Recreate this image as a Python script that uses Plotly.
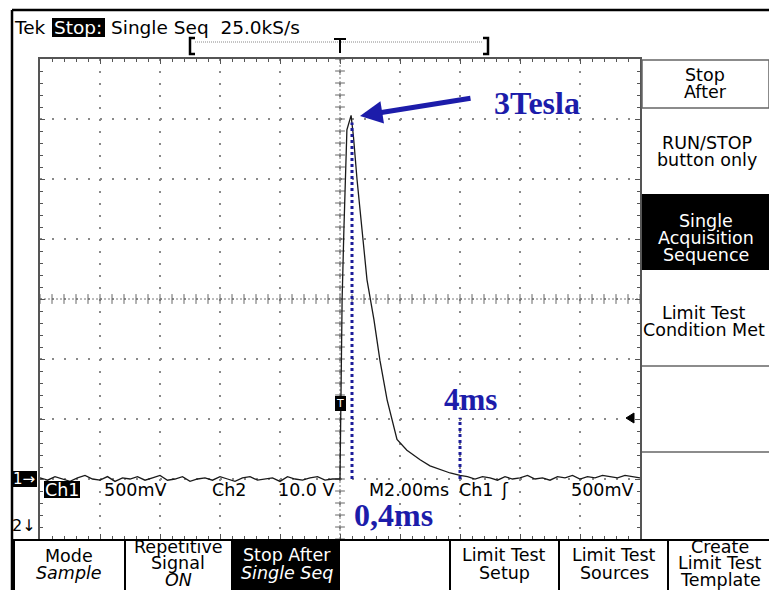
import numpy as np
import plotly.graph_objects as go

W, H = 769, 590

# ---------------- data (read from the screen) ----------------
# time in ms (2 ms/div), voltage in V (500 mV/div), trigger at t = 0
pre_t = [-10.0, -9.75, -9.5, -9.25, -9.0, -8.75, -8.5, -8.25, -8.0, -7.75,
         -7.5, -7.25, -7.0, -6.75, -6.5, -6.25, -6.0, -5.75, -5.5, -5.25,
         -5.0, -4.75, -4.5, -4.25, -4.0, -3.75, -3.5, -3.25, -3.0, -2.75,
         -2.5, -2.25, -2.0, -1.75, -1.5, -1.25, -1.0, -0.75, -0.5, -0.25]
pre_v = [0.01, -0.01, 0.02, 0.0, -0.02, 0.01, 0.03, 0.0, -0.01, 0.02,
         -0.02, 0.01, 0.0, 0.02, -0.01, 0.01, 0.03, -0.01, 0.0, 0.02,
         -0.02, 0.0, 0.01, -0.01, 0.02, 0.0, -0.02, 0.01, 0.02, -0.01,
         0.0, 0.01, -0.02, 0.02, 0.0, -0.01, 0.01, 0.02, -0.01, 0.0]

pulse_t = [0.0, 0.03, 0.07, 0.13, 0.23, 0.37, 0.45, 0.57, 0.73, 0.90,
           1.13, 1.33, 1.57, 1.73, 1.90, 2.23, 2.67, 3.0, 3.33, 3.67, 4.0]
pulse_v = [0.0, 0.6, 1.49, 2.08, 2.91, 3.03, 2.85, 2.49, 2.08, 1.66,
           1.33, 0.99, 0.66, 0.49, 0.33, 0.24, 0.16, 0.11, 0.08, 0.05, 0.03]

post_t = [4.25, 4.5, 4.75, 5.0, 5.25, 5.5, 5.75, 6.0, 6.25, 6.5, 6.75, 7.0,
          7.25, 7.5, 7.75, 8.0, 8.25, 8.5, 8.75, 9.0, 9.25, 9.5, 9.75, 10.0]
post_v = [0.02, 0.0, 0.02, 0.01, -0.01, 0.02, 0.0, 0.01, 0.03, 0.0, 0.01, -0.01,
          0.02, 0.01, 0.03, 0.0, 0.02, 0.01, 0.03, 0.02, 0.01, 0.03, 0.02, 0.01]

peak_time_ms = 0.4
end_time_ms = 4.0
peak_level = 2.97
end_level = 0.51

t_all = pre_t + pulse_t + post_t
v_all = pre_v + pulse_v + post_v

# ---------------- helpers ----------------
def X(p):
    return p / W

def Y(p):
    return 1 - p / H

annotations = []
shapes = []

def ann(text, x, y, size=17.5, color="black", family="DejaVu Sans", xanchor="center"):
    annotations.append(dict(text=text, x=X(x), y=Y(y), xref="paper", yref="paper",
                            showarrow=False, xanchor=xanchor, yanchor="middle",
                            borderpad=0,
                            font=dict(size=size, color=color, family=family)))

def rect(x0, y0, x1, y1, fill="black", line=None, lw=0):
    shapes.append(dict(type="rect", xref="paper", yref="paper",
                       x0=X(x0), x1=X(x1), y0=Y(y0), y1=Y(y1),
                       fillcolor=fill, line=dict(color=line or fill, width=lw),
                       layer="above"))

def line(x0, y0, x1, y1, color="black", w=1.5, dash="solid"):
    shapes.append(dict(type="line", xref="paper", yref="paper",
                       x0=X(x0), x1=X(x1), y0=Y(y0), y1=Y(y1),
                       line=dict(color=color, width=w, dash=dash), layer="above"))

fig = go.Figure()

# graticule centre tick marks
cx_ticks = np.arange(-10, 10.001, 0.4)
cy_ticks = np.arange(-0.5, 3.501, 0.1)
fig.add_trace(go.Scatter(x=cx_ticks, y=[1.5] * len(cx_ticks), mode="markers",
                         marker=dict(symbol="line-ns-open", size=7, color="#666",
                                     line=dict(color="#666", width=1)),
                         hoverinfo="skip", showlegend=False))
fig.add_trace(go.Scatter(x=[0] * len(cy_ticks), y=cy_ticks, mode="markers",
                         marker=dict(symbol="line-ew-open", size=7, color="#666",
                                     line=dict(color="#666", width=1)),
                         hoverinfo="skip", showlegend=False))

# signal trace
fig.add_trace(go.Scatter(x=t_all, y=v_all, mode="lines",
                         line=dict(color="#1a1a1a", width=1.3),
                         hoverinfo="skip", showlegend=False))

# centre crosshair lines
shapes.append(dict(type="line", xref="x", yref="y", x0=0, x1=0, y0=-0.5, y1=3.5,
                   line=dict(color="#777", width=1, dash="2px,2px"), layer="below"))
shapes.append(dict(type="line", xref="x", yref="y", x0=-10, x1=10, y0=1.5, y1=1.5,
                   line=dict(color="#777", width=1, dash="2px,2px"), layer="below"))

# blue dotted markers
shapes.append(dict(type="line", xref="x", yref="y", x0=peak_time_ms, x1=peak_time_ms,
                   y0=0, y1=peak_level,
                   line=dict(color="#1c1c9a", width=3, dash="3px,3px"), layer="above"))
shapes.append(dict(type="line", xref="x", yref="y", x0=end_time_ms, x1=end_time_ms,
                   y0=0, y1=end_level,
                   line=dict(color="#1c1c9a", width=3, dash="3px,3px"), layer="above"))

# outer frame
line(12, 10, 769, 10, w=2.5)
line(12, 10, 12, 590, w=2.5)

# top header
ann("Tek", 13, 27, size=18.5, xanchor="left")
rect(52, 18, 105, 37)
ann("Stop:", 78, 27, size=18.5, color="white")
ann("Single Seq  25.0kS/s", 110, 27, size=18.5, xanchor="left")

# record bracket
shapes.append(dict(type="path", xref="paper", yref="paper",
                   path=f"M{X(195)},{Y(38)} L{X(190)},{Y(38)} L{X(190)},{Y(54)} L{X(195)},{Y(54)}",
                   line=dict(color="black", width=2.5)))
shapes.append(dict(type="path", xref="paper", yref="paper",
                   path=f"M{X(483)},{Y(38)} L{X(488)},{Y(38)} L{X(488)},{Y(54)} L{X(483)},{Y(54)}",
                   line=dict(color="black", width=2.5)))
line(195, 42, 483, 42, color="#888", w=1, dash="1px,1px")
line(334, 39, 346, 39, w=2)
line(340, 39, 340, 53, w=2)

# right menu panel
rect(642, 60, 769, 108, fill="white", line="#666", lw=1.5)
ann("Stop", 705, 75)
ann("After", 705, 92)
ann("RUN/STOP", 707, 143)
ann("button only", 707, 160)
rect(642, 194, 769, 270)
ann("Single", 706, 221, color="white")
ann("Acquisition", 706, 238, color="white")
ann("Sequence", 706, 255, color="white")
ann("Limit Test", 704, 313)
ann("Condition Met", 642, 330, xanchor="left")
line(642, 366, 769, 366, color="#666", w=1.5)
line(642, 452, 769, 452, color="#666", w=1.5)

# bottom menu
line(12, 540, 769, 540, w=2)
for xs in [14, 125, 232, 450, 559, 668]:
    line(xs, 540, xs, 590, w=2)
ann("Mode", 69, 556)
ann("<i>Sample</i>", 69, 573)
ann("Repetitive", 178, 547)
ann("Signal", 178, 563)
ann("<i>ON</i>", 178, 580)
rect(232, 540, 340, 590)
ann("Stop After", 287, 555, color="white")
ann("<i>Single Seq</i>", 287, 573, color="white")
ann("Limit Test", 504, 555)
ann("Setup", 504, 573)
ann("Limit Test", 614, 555)
ann("Sources", 614, 573)
ann("Create", 720, 547)
ann("Limit Test", 720, 563)
ann("Template", 720, 580)

# channel markers
rect(12, 471, 37, 487)
ann("1→", 24, 479, size=15, color="white")
ann("2↓", 24, 525, size=16)

# trigger markers
rect(335, 396, 346, 411)
ann("T", 340, 403, size=11, color="white")
shapes.append(dict(type="path", xref="paper", yref="paper",
                   path=f"M{X(626)},{Y(418)} L{X(634)},{Y(413)} L{X(634)},{Y(423)} Z",
                   fillcolor="black", line=dict(color="black", width=1)))

# readout row
rect(44, 481, 80, 498)
ann("Ch1", 62, 490, size=17.5, color="white")
ann("500mV", 135, 490, size=17.5)
ann("Ch2", 229, 490, size=17.5)
ann("10.0 V", 306, 490, size=17.5)
ann("M2.00ms", 409, 490, size=17.5)
ann("Ch1", 476, 490, size=17.5)
ann("ʃ", 505, 490, size=17.5)
ann("500mV", 602, 490, size=17.5)

# blue annotations
blue = "#1c1caa"
ann("<b>3Tesla</b>", 537, 103, size=32, color=blue, family="Liberation Serif")
ann("<b>4ms</b>", 470, 399, size=31, color=blue, family="Liberation Serif")
ann("<b>0,4ms</b>", 393, 515, size=32, color=blue, family="Liberation Serif")
annotations.append(dict(text="", x=X(360), y=Y(116), xref="paper", yref="paper",
                        ax=472 - 360, ay=98 - 116, axref="pixel", ayref="pixel",
                        showarrow=True, arrowhead=2, arrowsize=0.9, arrowwidth=5,
                        arrowcolor=blue))

axis_common = dict(showgrid=True, gridcolor="#8a8a8a", gridwidth=1.5,
                   griddash="1.5px,10.5px", showline=True, linecolor="#555",
                   linewidth=1.5, mirror="ticks", ticks="inside", ticklen=5,
                   tickcolor="#555", tickwidth=1, showticklabels=False,
                   zeroline=False, fixedrange=True)

fig.update_layout(
    width=W, height=H,
    margin=dict(l=0, r=0, t=0, b=0, pad=0),
    paper_bgcolor="white", plot_bgcolor="white",
    showlegend=False,
    xaxis=dict(range=[-10, 10], domain=[X(40), X(640)], dtick=2, tick0=0,
               minor=dict(dtick=0.4, ticks="inside", ticklen=3, tickcolor="#555",
                          showgrid=False),
               **axis_common),
    yaxis=dict(range=[-0.5, 3.5], domain=[Y(539), Y(59)], dtick=0.5, tick0=0,
               minor=dict(dtick=0.1, ticks="inside", ticklen=3, tickcolor="#555",
                          showgrid=False),
               **axis_common),
    shapes=shapes,
    annotations=annotations,
)

fig.write_html("out.html", config={"displayModeBar": False},
               post_script="document.body.style.margin='0';")
